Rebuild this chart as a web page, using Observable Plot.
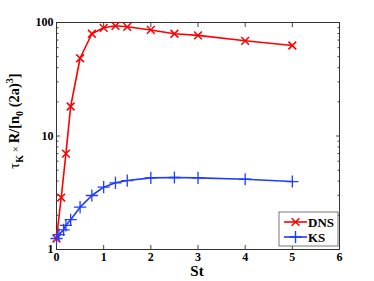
<!DOCTYPE html>
<html>
<head>
<meta charset="utf-8">
<script src="https://cdn.jsdelivr.net/npm/d3@7"></script>
<script src="https://cdn.jsdelivr.net/npm/@observablehq/plot@0.6"></script>
<style>
  html, body { margin: 0; padding: 0; background: #fff; }
  #chart svg { display: block; }
</style>
</head>
<body>
<div id="chart"></div>
<script>
const stDNS  = [0, 0.1, 0.2, 0.3, 0.5, 0.75, 1, 1.25, 1.5, 2, 2.5, 3, 4, 5];
const tauDNS = [1.25, 2.87, 7.0, 18.2, 48.4, 79.6, 89.8, 93.5, 91.6, 86, 79.6, 77, 69, 62.7];
const stKS   = [0, 0.05, 0.15, 0.2, 0.3, 0.5, 0.75, 1, 1.25, 1.5, 2, 2.5, 3, 4, 5];
const tauKS  = [1.25, 1.35, 1.49, 1.63, 1.83, 2.36, 2.99, 3.54, 3.87, 4.05, 4.28, 4.31, 4.28, 4.16, 3.97];
const seriesNames = ["DNS", "KS"];
const xTicks = [0, 1, 2, 3, 4, 5, 6];
const yMajor = [1, 10, 100];
const yMinor = [2,3,4,5,6,7,8,9,20,30,40,50,60,70,80,90];

const red = "#ff0000", blue = "#1f3cff";
const dns = stDNS.map((x, i) => ({x, y: tauDNS[i]}));
const ks = stKS.map((x, i) => ({x, y: tauKS[i]}));
const font = "'Liberation Serif', 'DejaVu Serif', serif";

const svg = Plot.plot({
  width: 374, height: 281,
  marginLeft: 56, marginRight: 35, marginTop: 22, marginBottom: 32,
  style: {fontFamily: font, fontWeight: "bold", fontSize: "12px", background: "#fff", overflow: "visible"},
  x: {domain: [0, 6], axis: null},
  y: {type: "log", domain: [1, 100], axis: null},
  marks: [
    Plot.axisX({anchor: "bottom", ticks: xTicks, tickSize: -4, tickPadding: 7, tickFormat: d => String(d), label: null, stroke: "#444", fill: "#000", fontSize: 12}),
    Plot.axisX({anchor: "top", ticks: xTicks, tickSize: -4, tickFormat: () => "", label: null, stroke: "#444"}),
    Plot.axisY({anchor: "left", ticks: yMajor, tickSize: -4, tickPadding: 7, tickFormat: d => String(d), label: null, stroke: "#444", fill: "#000", fontSize: 12}),
    Plot.axisY({anchor: "left", ticks: yMinor, tickSize: -2.5, tickFormat: () => "", label: null, stroke: "#444"}),
    Plot.axisY({anchor: "right", ticks: yMajor, tickSize: -4, tickFormat: () => "", label: null, stroke: "#444"}),
    Plot.axisY({anchor: "right", ticks: yMinor, tickSize: -2.5, tickFormat: () => "", label: null, stroke: "#444"}),
    Plot.frame({stroke: "#333", strokeWidth: 1}),
    Plot.line(dns, {x: "x", y: "y", stroke: red, strokeWidth: 1.6}),
    Plot.dot(dns, {x: "x", y: "y", symbol: "times", stroke: red, strokeWidth: 1.5, r: 3.6}),
    Plot.line(ks, {x: "x", y: "y", stroke: blue, strokeWidth: 1.6}),
    Plot.dot(ks, {x: "x", y: "y", symbol: "plus", stroke: blue, strokeWidth: 1.3, r: 4})
  ]
});

const s = d3.select(svg);
// x label
s.append("text").attr("x", 197).attr("y", 276).attr("text-anchor", "middle")
  .attr("font-family", font).attr("font-weight", "bold").attr("font-size", 15).text("St");

// y label
const yl = s.append("text").attr("transform", "translate(19,121) rotate(-90)")
  .attr("text-anchor", "middle").attr("font-family", font).attr("font-weight", "bold").attr("font-size", 14.5);
yl.append("tspan").attr("font-weight", "normal").text("τ");
yl.append("tspan").attr("font-size", 10).attr("dy", 4).text("K");
yl.append("tspan").attr("dy", -4).attr("font-weight", "normal").attr("font-size", 11).text(" × ");
yl.append("tspan").text("R/[n");
yl.append("tspan").attr("font-size", 10).attr("dy", 4).text("0");
yl.append("tspan").attr("dy", -4).text(" (2a)");
yl.append("tspan").attr("font-size", 10).attr("dy", -6).text("3");
yl.append("tspan").attr("dy", 6).text("]");

// legend
const lg = s.append("g").attr("transform", "translate(279,212)");
lg.append("rect").attr("width", 59).attr("height", 34).attr("fill", "#fff").attr("stroke", "#555").attr("stroke-width", 0.8);
const entries = [[seriesNames[0], red, d3.symbolTimes, 10], [seriesNames[1], blue, d3.symbolPlus, 25]];
entries.forEach(([name, col, sym, yy]) => {
  lg.append("line").attr("x1", 5).attr("x2", 28).attr("y1", yy).attr("y2", yy).attr("stroke", col).attr("stroke-width", 1.6);
  lg.append("path").attr("d", d3.symbol(sym, sym === d3.symbolTimes ? 40 : 50)()).attr("transform", `translate(16.5,${yy})`)
    .attr("fill", "none").attr("stroke", col).attr("stroke-width", 1.4);
  lg.append("text").attr("x", 29).attr("y", yy + 4.5).attr("text-anchor", "start").attr("font-family", font).attr("font-weight", "bold")
    .attr("font-size", 13).text(name);
});

document.getElementById("chart").appendChild(svg);
</script>
</body>
</html>
